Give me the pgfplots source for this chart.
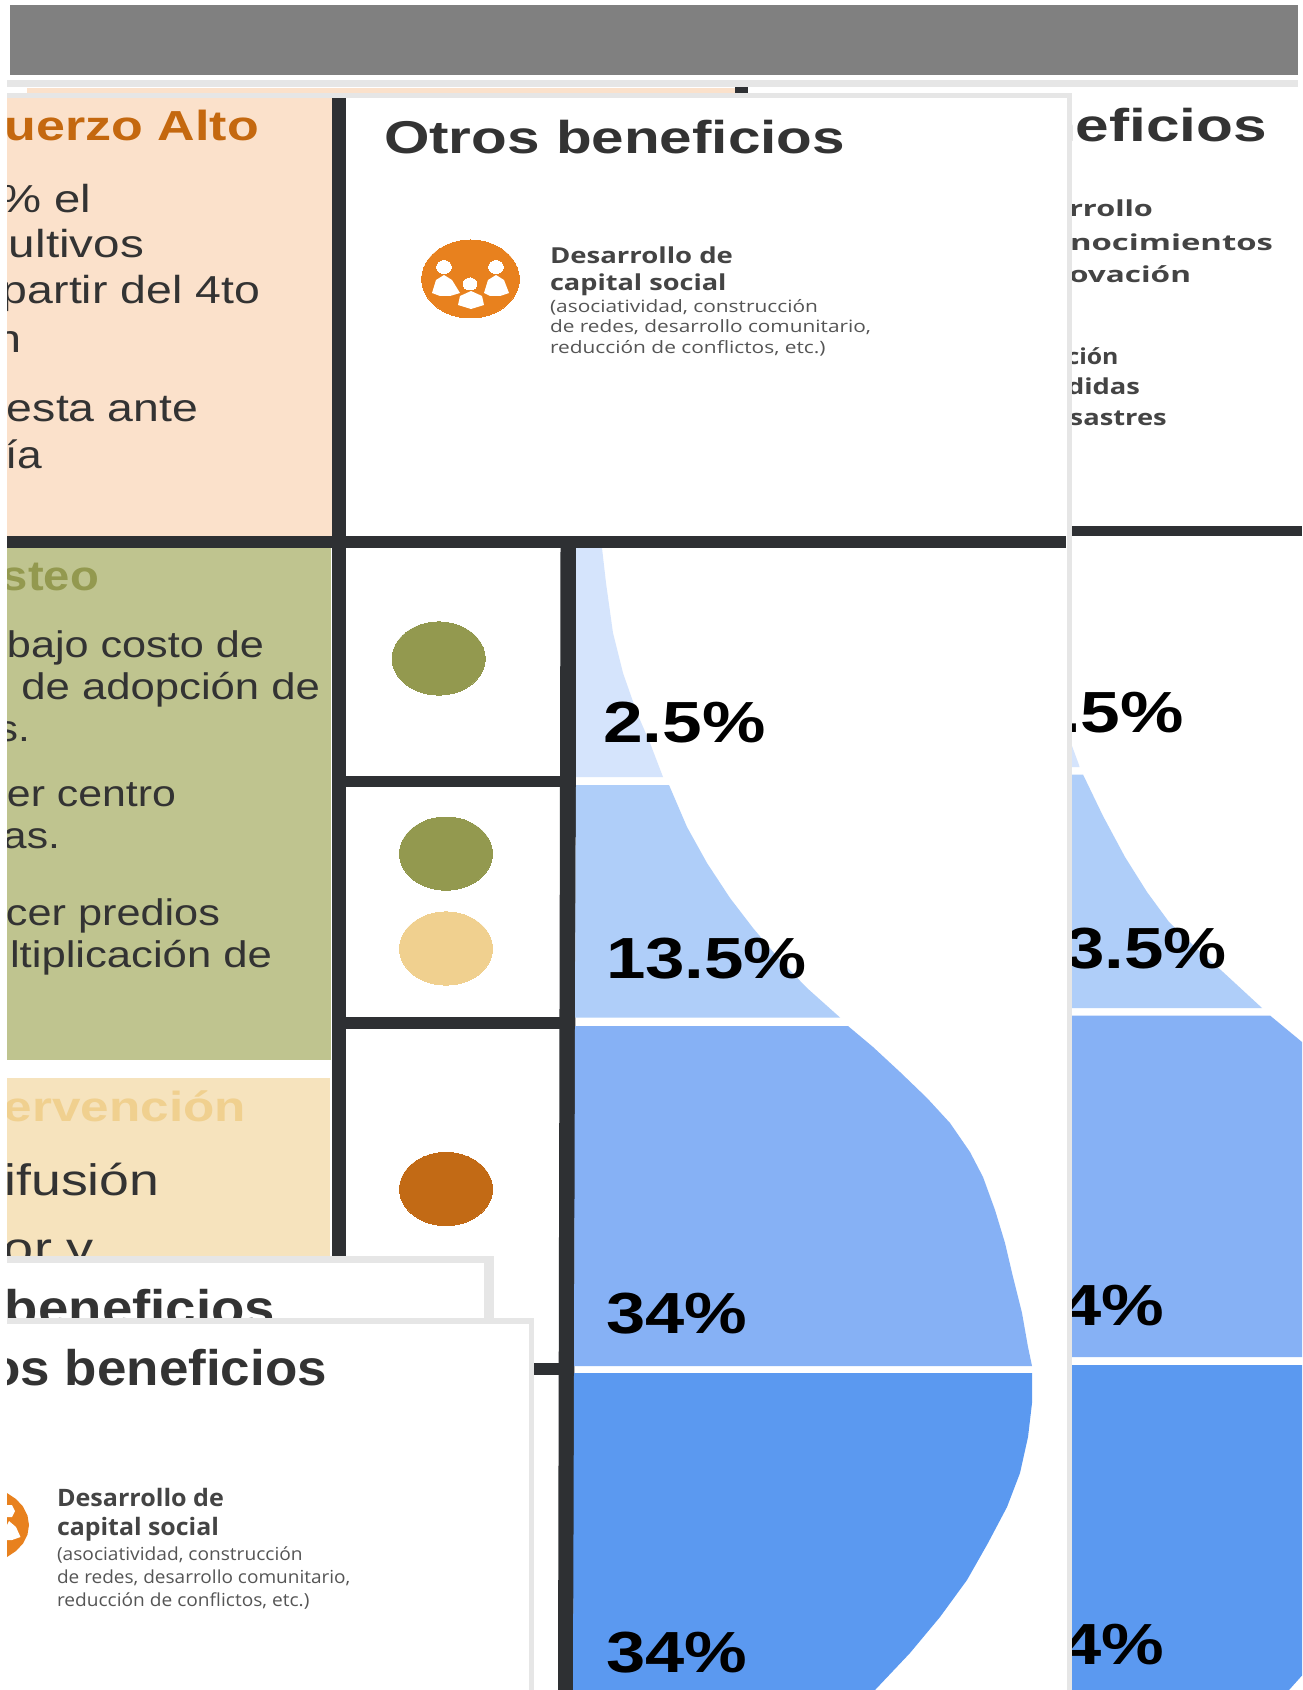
\documentclass[border=0pt]{standalone}
\usepackage{fontspec}
\usepackage{graphicx}
\usepackage{pgfplots}
\pgfplotsset{compat=1.18}
\setmainfont{Liberation Sans}
\newfontfamily\os{Open Sans}
\definecolor{banner}{HTML}{808080}
\definecolor{dark}{HTML}{2E3033}
\definecolor{band}{HTML}{E6E6E6}
\definecolor{peach}{HTML}{FBE1CB}
\definecolor{olivep}{HTML}{BFC48F}
\definecolor{cream}{HTML}{F6E3BD}
\definecolor{olive}{HTML}{93994F}
\definecolor{sand}{HTML}{F0D08F}
\definecolor{rust}{HTML}{C26A15}
\definecolor{orange}{HTML}{E8811E}
\definecolor{ttl}{HTML}{C4680F}
\definecolor{body}{HTML}{333333}
\definecolor{semi}{HTML}{444444}
\definecolor{small}{HTML}{555555}
\definecolor{fa}{HTML}{D5E4FC}
\definecolor{fb}{HTML}{AFCEF9}
\definecolor{fc}{HTML}{86B1F5}
\definecolor{fd}{HTML}{5B99F0}
\newdimen\px \px=0.5pt
% x, baseline y, width px, em px, colour, font, text
\newcommand\tw[7]{\node[anchor=base west,inner sep=0pt,outer sep=0pt,text=#5] at (axis cs:#1,#2)
  {\resizebox{#3\px}{\height}{\fontsize{\the\dimexpr#4\px\relax}{0pt}\selectfont#6#7}};}
\newcommand\te[7]{\node[anchor=base east,inner sep=0pt,outer sep=0pt,text=#5] at (axis cs:#1,#2)
  {\resizebox{#3\px}{\height}{\fontsize{\the\dimexpr#4\px\relax}{0pt}\selectfont#6#7}};}
\newcommand\poly[2]{\addplot[fill=#1,draw=none,no markers,forget plot] coordinates {#2} -- cycle;}
\newcommand\rect[5]{\poly{#1}{(#2,#3)(#4,#3)(#4,#5)(#2,#5)}}
% colour, x, y, ry pt-size, xscale
\newcommand\elli[5]{\addplot[only marks,mark=*,color=#1,mark size=#4pt,forget plot,mark options={line width=0pt,xscale=#5}] coordinates {(#2,#3)};}
\begin{document}
\begin{tikzpicture}
\begin{axis}[width=651pt,height=845pt,scale only axis,hide axis,xmin=0,xmax=1302,ymin=0,ymax=1690,y dir=reverse,clip=true,clip marker paths=true]
\rect{white}{0}{0}{1302}{1690}
% banner and top strips
\rect{banner}{10}{5}{1298}{75}
\rect{band}{7}{80}{1298}{87}
\rect{peach}{27}{88}{735}{93}
\rect{dark}{735}{87}{748}{93}
\rect{band}{7}{93}{1072}{98}
% left panels
\rect{peach}{7}{98}{332}{536}
\rect{olivep}{7}{548}{331}{1060}
\rect{cream}{7}{1078}{330}{1256}
% structure
\rect{dark}{332}{98}{346}{1256}
\rect{dark}{7}{536}{1066}{548}
\poly{dark}{(560.5,548)(576.5,548)(573.5,1690)(558,1690)}
\rect{dark}{346}{776}{561}{787}
\rect{dark}{346}{1017}{561}{1029}
\rect{dark}{534}{1363}{559}{1375}
\rect{band}{1067}{93}{1072}{1690}
\rect{dark}{1072}{526}{1302}{536}
% main funnel
\poly{fa}{(576,548)(602,548)(606,583)(613,633)(623,673)(637,713)(650,743)(663,777)(576,777)}
\poly{fb}{(576,785)(669,785)(687,827)(707,863)(730,898)(753,928)(780,960)(807,988)(840,1017.5)(575,1017.5)}
\poly{fc}{(575,1026)(848,1026)(873,1047)(900,1072)(927,1098)(950,1123)(970,1152)(983,1177)(995,1210)(1005,1243)(1013,1277)(1022,1313)(1028,1347)(1032,1366)(574,1366)}
\poly{fd}{(574,1373)(1032,1373)(1032,1403)(1028,1437)(1020,1473)(1007,1507)(988,1543)(967,1580)(940,1617)(910,1653)(875,1690)(573,1690)}
% right funnel
\poly{fa}{(1072,746)(1079,765)(1079.5,767)(1072,767)}
\poly{fb}{(1072,774.5)(1083,774.5)(1103,816)(1125,857)(1147,892)(1169,922)(1196,948)(1223,972)(1262,1008)(1072,1008)}
\poly{fc}{(1072,1015.5)(1270,1015.5)(1302,1042)(1302,1357)(1072,1357)}
\poly{fd}{(1072,1365)(1302,1365)(1302,1675.5)(1289,1690)(1072,1690)}
% cell circles
\elli{olive}{438.7}{658.5}{18.3}{1.27}
\elli{olive}{446}{853.6}{18.3}{1.27}
\elli{sand}{446}{948.5}{18.3}{1.27}
\elli{rust}{446}{1189}{18.3}{1.27}
% icon
\elli{orange}{470.5}{279}{19.5}{1.25}
\elli{white}{444}{267}{3.2}{1.15}
\elli{white}{496}{267}{3.2}{1.15}
\elli{white}{470}{284}{3}{1.15}
\poly{white}{(432,293)(436,280)(444,275)(452,280)(460,293)(450,296)(440,296)}
\poly{white}{(484,293)(488,280)(496,275)(504,280)(509,293)(500,296)(490,296)}
\poly{white}{(458,305)(460,296)(471,291)(482,296)(484,305)(471,309)}
% percentage labels, main funnel
\tw{603}{742.7}{162.5}{58}{black}{\bfseries}{2.5\%}
\tw{606}{978}{201}{58}{black}{\bfseries}{13.5\%}
\tw{606}{1333}{141}{58}{black}{\bfseries}{34\%}
\tw{606}{1672.6}{141}{58}{black}{\bfseries}{34\%}
% titles and texts of the middle panel
\tw{384}{153.6}{461}{46}{body}{\bfseries}{Otros beneficios}
\tw{550}{264}{183}{22}{semi}{\os\bfseries}{Desarrollo de}
\tw{550}{291}{176.5}{22}{semi}{\os\bfseries}{capital social}
\tw{550}{313}{268}{17}{small}{\os}{(asociatividad, construcción}
\tw{550}{333}{321}{17}{small}{\os}{de redes, desarrollo comunitario,}
\tw{550}{353.5}{275.6}{17}{small}{\os}{reducción de conflictos, etc.)}
% right panel (clipped at its left edge)
\begin{scope}
\clip (axis cs:1072,98) rectangle (axis cs:1302,1690);
\te{1267}{141.7}{476}{46}{body}{\bfseries}{Otros beneficios}
\te{1184}{732.4}{162.5}{58}{black}{\bfseries}{2.5\%}
\te{1227}{968.5}{201}{58}{black}{\bfseries}{13.5\%}
\te{1164}{1325}{141}{58}{black}{\bfseries}{34\%}
\te{1164}{1664}{141}{58}{black}{\bfseries}{34\%}
\te{1153}{217}{84}{22}{semi}{\os\bfseries}{rrollo}
\te{1273}{250.7}{203}{22}{semi}{\os\bfseries}{nocimientos}
\te{1191}{282.7}{122}{22}{semi}{\os\bfseries}{ovación}
\te{1118.5}{364}{52}{22}{semi}{\os\bfseries}{ción}
\te{1140}{394}{73}{22}{semi}{\os\bfseries}{didas}
\te{1166.7}{425}{97}{22}{semi}{\os\bfseries}{sastres}
\end{scope}
% left column texts
\begin{scope}
\clip (axis cs:7,98) rectangle (axis cs:332,1256);
\te{259}{141}{254}{42}{ttl}{\bfseries}{uerzo Alto}
\te{91.5}{212.5}{92}{39}{body}{}{\% el}
\te{144}{258}{135}{39}{body}{}{ultivos}
\te{260}{304}{258}{39}{body}{}{partir del 4to}
\te{21}{352}{26}{39}{body}{}{n}
\te{198}{421}{191}{39}{body}{}{esta ante}
\te{42.4}{468}{37}{39}{body}{}{ía}
\te{99}{590}{97}{42}{olive}{\bfseries}{steo}
\te{264}{657}{257}{37}{body}{}{bajo costo de}
\te{320}{699}{298.5}{37}{body}{}{de adopción de}
\te{30}{741.5}{33}{37}{body}{}{s.}
\te{176}{806}{169}{37}{body}{}{er centro}
\te{60}{848}{57}{37}{body}{}{as.}
\te{220}{925}{214}{37}{body}{}{cer predios}
\te{272}{967}{262}{37}{body}{}{ltiplicación de}
\te{246}{1121}{242}{42}{sand}{\bfseries}{ervención}
\te{159.5}{1195}{155}{44}{body}{}{ifusión}
\te{94}{1263}{90}{44}{body}{}{or y}
\end{scope}
% overlay panel 1
\rect{band}{7}{1256}{494}{1330}
\rect{white}{7}{1263}{484}{1330}
\begin{scope}
\clip (axis cs:7,1263) rectangle (axis cs:484,1330);
\te{275}{1325}{270}{50}{body}{\bfseries}{beneficios}
\end{scope}
% overlay panel 2
\rect{band}{7}{1318}{534}{1690}
\rect{white}{7}{1324}{529}{1690}
\begin{scope}
\clip (axis cs:7,1324) rectangle (axis cs:529,1690);
\te{327}{1385}{418}{50}{body}{\bfseries}{Otros beneficios}
\end{scope}
\poly{orange}{(7,1493)(16,1499)(23,1506.5)(27.5,1515.5)(29,1525)(27.5,1534.5)(23,1543.5)(16,1551)(7,1557)}
\poly{white}{(7,1505)(12,1505)(15,1511)(12,1517)(7,1517)}
\poly{white}{(7,1525)(9,1521)(16,1527)(20.5,1537)(12,1540)(7,1540)}
\tw{57}{1506.7}{167}{24}{semi}{\os\bfseries}{Desarrollo de}
\tw{57}{1535}{162}{24}{semi}{\os\bfseries}{capital social}
\tw{57}{1560.7}{245.7}{18}{small}{\os}{(asociatividad, construcción}
\tw{57}{1583}{293.4}{18}{small}{\os}{de redes, desarrollo comunitario,}
\tw{57}{1606.7}{252.4}{18}{small}{\os}{reducción de conflictos, etc.)}
\end{axis}
\end{tikzpicture}
\end{document}
